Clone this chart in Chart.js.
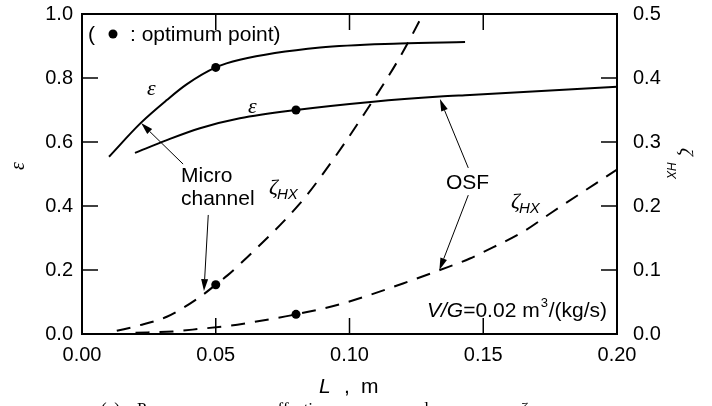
<!DOCTYPE html>
<html>
<head>
<meta charset="utf-8">
<script src="https://cdn.jsdelivr.net/npm/chart.js@4.4.1/dist/chart.umd.min.js"></script>
<style>
    html, body { margin: 0; padding: 0; background: #fff; }
    #contenedor { width: 712px; height: 406px; }
</style>
</head>
<body>
<div id="contenedor"><canvas id="grafico" width="712" height="406"></canvas></div>
<script>
// longitud L (m) y valores de cada curva
const lMicroEps = [0.0101, 0.0219, 0.0317, 0.0391, 0.05, 0.059, 0.089, 0.1189, 0.1432];
const microEps = [0.554, 0.659, 0.731, 0.780, 0.833, 0.857, 0.895, 0.908, 0.9125];

const lOsfEps = [0.0198, 0.0317, 0.0441, 0.059, 0.08, 0.1089, 0.1338, 0.145, 0.2];
const osfEps = [0.566, 0.606, 0.643, 0.674, 0.700, 0.726, 0.742, 0.747, 0.773];

const lMicroZeta = [0.013, 0.021, 0.0317, 0.0441, 0.05, 0.0545, 0.059, 0.0815, 0.0902, 0.1052, 0.1189, 0.1276, 0.131];
const microZeta = [0.005, 0.013, 0.027, 0.058, 0.077, 0.092, 0.109, 0.204, 0.251, 0.342, 0.433, 0.501, 0.53];

const lOsfZeta = [0.02, 0.034, 0.044, 0.0553, 0.0616, 0.08, 0.0977, 0.12, 0.1338, 0.145, 0.15, 0.165, 0.176, 0.2];
const osfZeta = [0.002, 0.004, 0.008, 0.013, 0.017, 0.0307, 0.048, 0.079, 0.100, 0.118, 0.128, 0.160, 0.191, 0.257];

// puntos optimos (micro channel, OSF)
const lOptimo = [0.05, 0.08];
const epsOptimo = [0.833, 0.700];
const zetaOptimo = [0.077, 0.0307];

// marcas de los ejes
const ticksL = [0, 0.05, 0.10, 0.15, 0.20];
const ticksEps = [0, 0.2, 0.4, 0.6, 0.8, 1.0];
const ticksZeta = [0, 0.1, 0.2, 0.3, 0.4, 0.5];

// flechas de las etiquetas, en unidades de L y epsilon
const flechas = [
    { desde: [0.0378, 0.531], hasta: [0.0221, 0.659] },
    { desde: [0.0472, 0.372], hasta: [0.0456, 0.134] },
    { desde: [0.1444, 0.519], hasta: [0.1338, 0.734] },
    { desde: [0.1444, 0.434], hasta: [0.1336, 0.200] }
];

function puntos(xs, ys) {
    return xs.map((x, i) => ({ x: x, y: ys[i] }));
}

const SANS = '"Liberation Sans", Arial, sans-serif';
const SERIF = '"Liberation Serif", "Times New Roman", serif';

function escribir(ctx, txt, x, y, font, align) {
    ctx.font = font;
    ctx.textAlign = align || 'left';
    ctx.textBaseline = 'alphabetic';
    ctx.fillText(txt, x, y);
}

function linea(ctx, x1, y1, x2, y2) {
    ctx.beginPath();
    ctx.moveTo(x1, y1);
    ctx.lineTo(x2, y2);
    ctx.stroke();
}

function flecha(ctx, x1, y1, x2, y2) {
    const ang = Math.atan2(y2 - y1, x2 - x1);
    const largo = 12, ancho = 3.5;
    const bx = x2 - largo * Math.cos(ang), by = y2 - largo * Math.sin(ang);
    ctx.lineWidth = 1;
    linea(ctx, x1, y1, bx, by);
    ctx.beginPath();
    ctx.moveTo(x2, y2);
    ctx.lineTo(bx + ancho * Math.sin(ang), by - ancho * Math.cos(ang));
    ctx.lineTo(bx - ancho * Math.sin(ang), by + ancho * Math.cos(ang));
    ctx.closePath();
    ctx.fill();
}

function zetaHX(ctx, x, y, tamZeta, tamSub, dx, dy) {
    escribir(ctx, 'ζ', x, y, 'italic ' + tamZeta + 'px ' + SERIF);
    escribir(ctx, 'HX', x + dx, y + dy, 'italic ' + tamSub + 'px ' + SANS);
}

// sin relleno extra de las etiquetas: el area queda fija
function sinRelleno(s) {
    s.paddingTop = 0;
    s.paddingBottom = 0;
    s.paddingLeft = 0;
    s.paddingRight = 0;
}

const decoracion = {
    id: 'decoracion',
    afterDraw(chart) {
        const ctx = chart.ctx;
        const a = chart.chartArea;
        const sx = chart.scales.x, sy = chart.scales.y, sz = chart.scales.y2;
        ctx.save();
        ctx.strokeStyle = '#000';
        ctx.fillStyle = '#000';

        // marco y marcas interiores
        ctx.lineWidth = 2;
        ctx.strokeRect(a.left, a.top, a.right - a.left, a.bottom - a.top);
        ctx.lineWidth = 1.5;
        ticksL.forEach(v => {
            const px = sx.getPixelForValue(v);
            linea(ctx, px, a.bottom, px, a.bottom - 16);
            linea(ctx, px, a.top, px, a.top + 16);
        });
        ticksEps.forEach(v => {
            const py = sy.getPixelForValue(v);
            linea(ctx, a.left, py, a.left + 16, py);
        });
        ticksZeta.forEach(v => {
            const py = sz.getPixelForValue(v);
            linea(ctx, a.right, py, a.right - 16, py);
        });

        // flechas
        flechas.forEach(f => {
            flecha(ctx,
                sx.getPixelForValue(f.desde[0]), sy.getPixelForValue(f.desde[1]),
                sx.getPixelForValue(f.hasta[0]), sy.getPixelForValue(f.hasta[1]));
        });

        // textos dentro del grafico
        const f21 = '21px ' + SANS;
        escribir(ctx, '(', 88, 41, f21);
        ctx.beginPath();
        ctx.arc(113, 34, 4.5, 0, Math.PI * 2);
        ctx.fill();
        escribir(ctx, ': optimum point)', 130, 41, f21);

        escribir(ctx, 'Micro', 181, 182, f21);
        escribir(ctx, 'channel', 181, 205, f21);
        escribir(ctx, 'OSF', 446, 189, f21);

        escribir(ctx, 'ε', 147, 95, 'italic 22px ' + SERIF);
        escribir(ctx, 'ε', 248, 113, 'italic 22px ' + SERIF);

        zetaHX(ctx, 269, 194, 22, 15, 8, 5);
        zetaHX(ctx, 511, 208, 22, 15, 8, 5);

        escribir(ctx, 'V/G', 427, 317, 'italic 21px ' + SANS);
        ctx.font = 'italic 21px ' + SANS;
        let px = 427 + ctx.measureText('V/G').width;
        escribir(ctx, '=0.02 m', px, 317, f21);
        ctx.font = f21;
        px += ctx.measureText('=0.02 m').width;
        escribir(ctx, '3', px + 1, 307, '13px ' + SANS);
        escribir(ctx, '/(kg/s)', px + 9, 317, f21);

        // titulos de los ejes
        escribir(ctx, 'L', 319, 393, 'italic 21px ' + SANS);
        escribir(ctx, ',', 344, 393, f21);
        escribir(ctx, 'm', 361, 393, f21);

        ctx.save();
        ctx.translate(19, 166);
        ctx.rotate(-Math.PI / 2);
        ctx.font = 'italic 20px ' + SERIF;
        ctx.textAlign = 'center';
        ctx.textBaseline = 'middle';
        ctx.fillText('ε', 0, 0);
        ctx.restore();

        ctx.save();
        ctx.translate(680, 148);
        ctx.rotate(Math.PI / 2);
        zetaHX(ctx, 0, 0, 19, 12, 14, 13);
        ctx.restore();

        // pie de figura
        const fp = '17px ' + SERIF;
        escribir(ctx, '(a)', 101, 414, fp);
        escribir(ctx, 'Pressure', 137, 414, fp);
        escribir(ctx, 'effectiveness', 270, 414, fp);
        escribir(ctx, 'and', 404, 414, fp);
        escribir(ctx, 'ζ', 520, 414, 'italic 17px ' + SERIF);

        ctx.restore();
    }
};

const curva = {
    showLine: true,
    pointRadius: 0,
    borderColor: '#000',
    borderWidth: 2,
    cubicInterpolationMode: 'monotone',
    fill: false
};

Chart.defaults.font.family = SANS;
Chart.defaults.color = '#000';

new Chart(document.getElementById('grafico').getContext('2d'), {
    type: 'scatter',
    data: {
        datasets: [
            Object.assign({ label: 'ε micro channel', data: puntos(lMicroEps, microEps), yAxisID: 'y' }, curva),
            Object.assign({ label: 'ε OSF', data: puntos(lOsfEps, osfEps), yAxisID: 'y' }, curva),
            Object.assign({ label: 'ζHX micro channel', data: puntos(lMicroZeta, microZeta), yAxisID: 'y2', borderDash: [14, 10] }, curva),
            Object.assign({ label: 'ζHX OSF', data: puntos(lOsfZeta, osfZeta), yAxisID: 'y2', borderDash: [14, 10] }, curva),
            {
                label: 'optimum ε', data: puntos(lOptimo, epsOptimo), yAxisID: 'y',
                pointRadius: 4.5, backgroundColor: '#000', borderWidth: 0
            },
            {
                label: 'optimum ζHX', data: puntos(lOptimo, zetaOptimo), yAxisID: 'y2',
                pointRadius: 4.5, backgroundColor: '#000', borderWidth: 0
            }
        ]
    },
    options: {
        responsive: false,
        animation: false,
        layout: { padding: { top: 14, left: 0, right: 0, bottom: 0 } },
        plugins: { legend: { display: false }, tooltip: { enabled: false } },
        scales: {
            x: {
                type: 'linear', min: 0, max: 0.2,
                grid: { display: false, drawTicks: false },
                border: { display: false },
                afterBuildTicks: s => { s.ticks = ticksL.map(v => ({ value: v })); },
                afterFit: s => { s.height = 72; sinRelleno(s); },
                ticks: { padding: 9, font: { size: 20 }, callback: v => v.toFixed(2) }
            },
            y: {
                type: 'linear', position: 'left', min: 0, max: 1,
                grid: { display: false, drawTicks: false },
                border: { display: false },
                afterBuildTicks: s => { s.ticks = ticksEps.map(v => ({ value: v })); },
                afterFit: s => { s.width = 82; sinRelleno(s); },
                ticks: { padding: 9, font: { size: 20 }, callback: v => v.toFixed(1) }
            },
            y2: {
                type: 'linear', position: 'right', min: 0, max: 0.5,
                grid: { display: false, drawTicks: false },
                border: { display: false },
                afterBuildTicks: s => { s.ticks = ticksZeta.map(v => ({ value: v })); },
                afterFit: s => { s.width = 95; sinRelleno(s); },
                ticks: { padding: 16, font: { size: 20 }, callback: v => v.toFixed(1) }
            }
        }
    },
    plugins: [decoracion]
});
</script>
</body>
</html>
